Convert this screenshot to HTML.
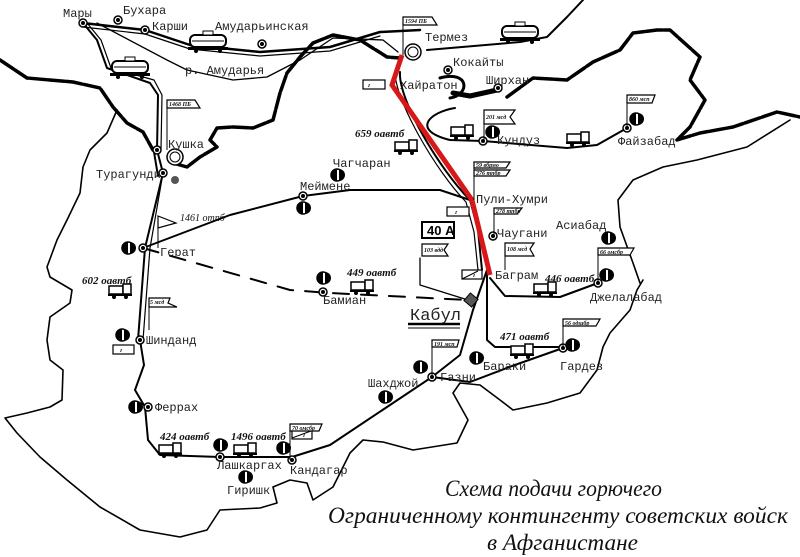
<!DOCTYPE html>
<html><head><meta charset="utf-8"><style>
html,body{margin:0;padding:0;background:#fff;}
svg{display:block;}
.t{font-family:"Liberation Mono","DejaVu Sans Mono",monospace;font-size:12px;fill:#222;}
.b{font-family:"Liberation Serif",serif;font-style:italic;font-weight:bold;font-size:11px;fill:#111;}
.s{font-family:"Liberation Serif",serif;font-style:italic;font-weight:bold;font-size:6px;fill:#111;}
.ti{font-family:"Liberation Serif",serif;font-style:italic;font-size:23px;fill:#111;}
</style></head><body>
<svg width="800" height="557" viewBox="0 0 800 557" xmlns="http://www.w3.org/2000/svg">
<defs>
<g id="f"><circle r="6" fill="#fff" stroke="#000" stroke-width="1.5"/><path d="M0,-6 A6,6 0 0 0 0,6 Z" fill="#000"/><path d="M2,-6 A6,6 0 0 1 2,6 Z" fill="#000"/></g>
<g id="d"><circle r="4" fill="#fff" stroke="#000" stroke-width="1.5"/><circle r="2" fill="#000"/></g>
<g id="tr"><rect x="-11" y="-6" width="14" height="8" fill="#fff" stroke="#000" stroke-width="1.5"/><rect x="3" y="-8" width="8" height="10" fill="#fff" stroke="#000" stroke-width="1.5"/><rect x="-12" y="2" width="24" height="2" fill="#000"/><circle cx="-6" cy="5" r="2"/><circle cx="6" cy="5" r="2"/></g>
<g id="tk"><rect x="-18" y="-7" width="36" height="12" rx="5" fill="#fff" stroke="#000" stroke-width="2"/><line x1="-16" y1="-1" x2="16" y2="-1" stroke="#000"/><rect x="-5" y="-11" width="10" height="4" fill="#fff" stroke="#000"/><rect x="-20" y="5" width="40" height="3" fill="#000"/><circle cx="-12" cy="9" r="2"/><circle cx="12" cy="9" r="2"/></g>
</defs>
<g fill="none" stroke="#000" stroke-linejoin="round" stroke-linecap="round">
<!-- thick borders -->
<path stroke-width="3.5" stroke-dasharray="16 2" d="M0,60 L27,78 L73,82 L100,88 L113,107 L127,123 L143,132 L153,150"/>
<path stroke-width="3.5" stroke-dasharray="16 2" d="M173,163 L187,167 L200,157 L217,147 L210,140 L217,128 L233,127 L253,128 L273,120 L280,93 L287,73 L300,57 L313,43 L333,35 L360,40 L387,57 L400,58"/>
<path stroke-width="3.5" stroke-dasharray="16 2" d="M507,97 L533,78 L567,80 L593,62 L620,50 L633,33 L657,30 L670,30 L700,57 L690,80 L705,100 L690,127 L677,140 L700,133 L733,127 L777,112 L800,117"/>
<path stroke-width="5" d="M453,93 L470,96 L497,90"/>
<path stroke-width="3" d="M440,78 C470,70 470,95 450,98"/>
<!-- thin borders -->
<path stroke-width="1.6" d="M117,110 L107,133 L90,150 L83,167 L80,193 L67,220 L57,240 L47,267 L50,277 L72,290 L70,303 L50,317 L47,340 L50,360 L63,370 L62,400 L50,407 L27,413 L5,418 L17,433 L40,457 L67,480 L100,507 L140,530 L180,537 L207,530 L220,510 L260,508 L277,503 L273,487 L290,480 L307,483 L313,500 L333,487 L350,453 L363,440 L383,442 L413,450 L457,443 L468,420 L453,393 L460,383 L480,385 L500,400 L513,410 L547,403 L580,393 L597,370 L603,347 L610,333 L630,310 L637,290 L643,280"/>
<path stroke-width="1.6" d="M640,283 L633,263 L620,227 L618,200 L633,180 L663,167 L697,160 L747,147 L790,120"/>
<!-- rails / river -->
<path stroke-width="2.5" d="M83,23 L145,30 L190,45 L260,52 L330,47 L380,32 L420,30"/>
<path stroke-width="1.2" d="M83,27 L145,34 L190,49 L260,56 L330,51 L380,36"/>
<path stroke-width="1.3" d="M97,23 L167,60 L187,70 L233,80 L267,77 L300,60 L333,38 L383,40 L398,52"/>
<path stroke-width="2" d="M583,0 L567,17 L547,37 L520,42 L427,50"/>
<path stroke-width="2" d="M83,23 L97,40 L107,68 L150,83 L158,95 L157,150"/>
<path stroke-width="1.2" d="M87,23 L101,40 L111,68 L154,80 L162,95 L161,150"/>
<!-- Kushka-Herat-Shindand double -->
<path stroke-width="2" d="M157,150 L163,173 L145,248 L138,340"/>
<path stroke-width="1.2" d="M163,173 L150,248 L143,340"/>
<path stroke-width="2" d="M154,152 L158,176"/>
<!-- roads -->
<path stroke-width="2" d="M140,340 L144,365 L135,390 L145,407 L148,440 L160,455 L220,457 L292,457 L330,445 L390,405 L432,377 L460,355 L473,310 L487,270"/>
<path stroke-width="2" d="M143,248 L230,215 L303,196 L350,190 L440,190 L470,200"/>
<path stroke-width="2" d="M432,377 L470,382 L512,366 L563,348"/>
<path stroke-width="2" d="M487,272 L487,340 L495,347 L563,347"/>
<path stroke-width="2" d="M490,278 L505,296 L560,297 L598,283"/>
<path stroke-width="2" d="M455,108 C430,112 410,130 450,140 L483,141 L567,148 L597,145 L627,128"/>
<path stroke-width="2" d="M400,72 C398,100 440,170 470,200 L478,230 L482,270"/>
<path stroke-width="1.2" d="M395,72 C395,100 435,170 466,202 L474,232 L478,270"/>
<path stroke-width="2" stroke-dasharray="16 12" d="M143,248 L290,290 L330,293 L468,300"/>
<path stroke-width="1.3" d="M420,258 L420,285 L468,300"/>
</g>
<!-- red supply line -->
<path d="M402,55 L392,85 L472,200 L490,275" fill="none" stroke="#d81818" stroke-width="5"/>
<!-- Kabul symbol -->
<rect x="466" y="295" width="10" height="10" transform="rotate(40 471 300)" fill="#555" stroke="#000"/>
<line x1="408" y1="324" x2="460" y2="324" stroke="#000" stroke-width="2.5"/><line x1="408" y1="328" x2="460" y2="328" stroke="#000" stroke-width="1"/>
<!-- dots -->
<g>
<use href="#d" x="83" y="23"/><use href="#d" x="118" y="20"/><use href="#d" x="145" y="30"/><use href="#d" x="262" y="44"/>
<use href="#d" x="448" y="70"/><use href="#d" x="498" y="88"/><use href="#d" x="157" y="150"/><use href="#d" x="163" y="173"/>
<use href="#d" x="303" y="196"/><use href="#d" x="143" y="248"/><use href="#d" x="140" y="340"/><use href="#d" x="148" y="407"/>
<use href="#d" x="220" y="457"/><use href="#d" x="292" y="460"/><use href="#d" x="432" y="377"/><use href="#d" x="563" y="348"/>
<use href="#d" x="598" y="283"/><use href="#d" x="483" y="141"/><use href="#d" x="627" y="128"/><use href="#d" x="323" y="292"/><use href="#d" x="493" y="236"/>
</g>
<circle cx="413" cy="52" r="8" fill="#fff" stroke="#000" stroke-width="1.5"/><circle cx="413" cy="52" r="5" fill="#fff" stroke="#000"/>
<circle cx="175" cy="157" r="8" fill="#fff" stroke="#000" stroke-width="1.5"/><circle cx="175" cy="157" r="5" fill="#fff" stroke="#000"/>
<circle cx="175" cy="180" r="4" fill="#555"/>
<!-- fuel symbols -->
<g>
<use href="#f" x="337" y="175"/><use href="#f" x="303" y="208"/><use href="#f" x="128" y="248"/><use href="#f" x="122" y="335"/>
<use href="#f" x="135" y="407"/><use href="#f" x="220" y="445"/><use href="#f" x="245" y="477"/><use href="#f" x="283" y="448"/>
<use href="#f" x="323" y="278"/><use href="#f" x="385" y="397"/><use href="#f" x="420" y="367"/><use href="#f" x="476" y="358"/>
<use href="#f" x="572" y="345"/><use href="#f" x="606" y="275"/><use href="#f" x="608" y="238"/><use href="#f" x="636" y="119"/><use href="#f" x="492" y="132"/>
</g>
<!-- tanks & trucks -->
<use href="#tk" x="130" y="68"/><use href="#tk" x="208" y="42"/><use href="#tk" x="520" y="33"/>
<use href="#tr" x="406" y="148"/><use href="#tr" x="120" y="292"/><use href="#tr" x="362" y="288"/><use href="#tr" x="462" y="133"/>
<use href="#tr" x="578" y="140"/><use href="#tr" x="545" y="290"/><use href="#tr" x="522" y="352"/><use href="#tr" x="170" y="451"/><use href="#tr" x="245" y="451"/>
<!-- boxes & flags -->
<g fill="#fff" stroke="#000" stroke-width="1.2">
<rect x="363" y="80" width="22" height="9"/><rect x="113" y="345" width="21" height="9"/><rect x="447" y="207" width="22" height="9"/>
<rect x="422" y="222" width="32" height="16" stroke-width="2"/><rect x="462" y="270" width="20" height="9"/><rect x="292" y="430" width="20" height="9"/>
<path d="M167,100 H195 L200,108 H167 Z"/><path d="M403,17 H432 L437,25 H403 Z"/>
<path d="M422,244 H448 L444,250 L448,256 H422 Z"/>
<path d="M484,110 H515 L510,117 L515,124 H484 Z"/><path d="M627,95 H655 L652,103 H627 Z"/>
<path d="M474,162 H510 L506,168 H474 Z"/><path d="M474,170 H510 L506,176 H474 Z"/><path d="M494,208 H522 L517,214 H494 Z"/>
<path d="M505,243 H534 L530,249 L534,256 H505 Z"/><path d="M598,248 H634 L630,255 H598 Z"/><path d="M563,319 H600 L596,326 H563 Z"/>
<path d="M432,340 H459 L457,347 H432 Z"/><path d="M290,424 H322 L319,431 H290 Z"/><path d="M149,298 H170 L168,303 L177,307 H149 Z"/>
<path d="M158,216 L176,223 L158,228 Z"/>
</g>
<g stroke="#000" stroke-width="1">
<line x1="167" y1="100" x2="167" y2="150"/><line x1="403" y1="17" x2="403" y2="55"/><line x1="484" y1="110" x2="484" y2="140"/>
<line x1="627" y1="95" x2="627" y2="128"/><line x1="474" y1="162" x2="474" y2="200"/><line x1="494" y1="208" x2="494" y2="236"/>
<line x1="505" y1="243" x2="505" y2="270"/><line x1="598" y1="248" x2="598" y2="283"/><line x1="563" y1="319" x2="563" y2="348"/>
<line x1="432" y1="340" x2="432" y2="377"/><line x1="290" y1="424" x2="290" y2="460"/><line x1="149" y1="298" x2="149" y2="330"/><line x1="158" y1="216" x2="158" y2="248"/>
<line x1="292" y1="438" x2="311" y2="431"/><line x1="462" y1="279" x2="478" y2="271"/>
</g>
<g class="s">
<text x="169" y="106">1468 ПБ</text><text x="405" y="23">1594 ПБ</text><text x="368" y="87">г</text><text x="120" y="352">г</text><text x="455" y="214">г</text>
<text x="303" y="437">г</text><text x="473" y="277">г</text>
<text x="486" y="119">201 мсд</text><text x="629" y="101">860 мсп</text><text x="476" y="167">59 вбрмо</text><text x="476" y="175">276 тпбр</text>
<text x="496" y="213">278 тпбр</text><text x="507" y="251">108 мсд</text><text x="600" y="254">66 омсбр</text><text x="565" y="325">56 одшбр</text>
<text x="434" y="346">191 мсп</text><text x="292" y="430">70 омсбр</text><text x="150" y="304">5 мсд</text><text x="424" y="252">103 вдд</text>
</g>
<text x="427" y="235" font-family="Liberation Sans,sans-serif" font-size="13" font-weight="bold">40 А</text>
<g class="t">
<text x="63" y="17">Мары</text><text x="123" y="14">Бухара</text><text x="152" y="30">Карши</text><text x="215" y="30">Амударьинская</text>
<text x="185" y="74">р. Амударья</text><text x="425" y="41">Термез</text><text x="453" y="66">Кокайты</text><text x="486" y="84">Ширхан</text>
<text x="400" y="89">Хайратон</text><text x="168" y="148">Кушка</text><text x="96" y="178">Турагунди</text><text x="333" y="167">Чагчаран</text>
<text x="300" y="190">Меймене</text><text x="160" y="256">Герат</text><text x="476" y="203">Пули-Хумри</text><text x="497" y="237">Чаугани</text>
<text x="556" y="229">Асиабад</text><text x="495" y="279">Баграм</text><text x="590" y="301">Джелалабад</text><text x="323" y="304">Бамиан</text>
<text x="146" y="344">Шинданд</text><text x="155" y="411">Феррах</text><text x="217" y="469">Лашкаргах</text><text x="227" y="494">Гиришк</text>
<text x="290" y="474">Кандагар</text><text x="368" y="387">Шахджой</text><text x="440" y="381">Газни</text><text x="483" y="370">Бараки</text>
<text x="560" y="370">Гардез</text><text x="497" y="144">Кундуз</text><text x="618" y="145">Файзабад</text>
<text x="410" y="320" font-size="17">Кабул</text>
</g>
<g class="b">
<text x="355" y="137">659 оавтб</text><text x="82" y="284">602 оавтб</text><text x="347" y="276">449 оавтб</text><text x="545" y="282">446 оавтб</text>
<text x="500" y="340">471 оавтб</text><text x="160" y="440">424 оавтб</text><text x="231" y="440">1496 оавтб</text>
<text x="180" y="221" font-weight="normal" font-size="10">1461 отпб</text>
</g>
<g class="ti">
<text x="445" y="496" textLength="217" lengthAdjust="spacingAndGlyphs">Схема подачи горючего</text>
<text x="328" y="523" textLength="460" lengthAdjust="spacingAndGlyphs">Ограниченному контингенту советских войск</text>
<text x="487" y="550" textLength="151" lengthAdjust="spacingAndGlyphs">в Афганистане</text>
</g>
</svg>
</body></html>
